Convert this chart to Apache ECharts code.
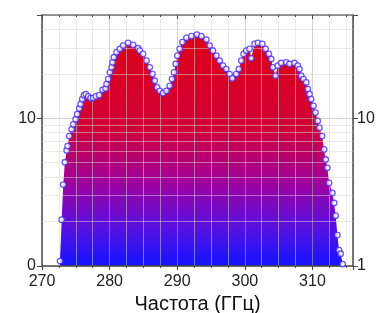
<!DOCTYPE html>
<html>
<head>
<meta charset="utf-8">
<script src="https://cdn.jsdelivr.net/npm/echarts@6/dist/echarts.min.js"></script>
<style>
  html, body { margin: 0; padding: 0; background: #fff; }
  #main { width: 388px; height: 313px; }
</style>
</head>
<body>
<div id="main"></div>
<script>
// частота, ГГц
const freq = [
  272.66, 272.91, 273.14, 273.39, 273.65, 273.79, 274.03, 274.38, 274.62, 274.97,
  275.21, 275.51, 275.71, 275.95, 276.20, 276.49, 276.83, 277.19, 277.57, 277.97,
  278.46, 278.96, 279.40, 279.55, 279.79, 280.04, 280.29, 280.44, 280.63, 281.03,
  281.51, 282.00, 282.74, 283.48, 284.21, 284.46, 284.95, 285.45, 285.94, 286.34,
  286.68, 287.02, 287.42, 287.90, 288.41, 288.89, 289.23, 289.53, 289.78, 290.03,
  290.37, 290.77, 291.36, 292.10, 292.92, 293.57, 294.31, 294.80, 295.28, 295.79,
  296.27, 296.76, 297.26, 297.75, 298.15, 298.74, 299.12, 299.48, 299.82, 300.21,
  300.70, 300.95, 301.44, 301.93, 302.58, 303.06, 303.55, 303.90, 304.14, 304.54,
  304.88, 305.38, 306.12, 306.60, 307.34, 307.83, 308.08, 308.33, 308.67, 309.07,
  309.31, 309.56, 309.81, 310.15, 310.44, 310.78, 311.03, 311.43, 311.73, 311.96,
  312.21, 312.46, 312.95, 313.20, 313.44, 313.69, 313.94, 314.18, 314.47
]
// сигнал
const signal = [
  1.08, 2.06, 3.56, 5.04, 6.06, 6.48, 7.58, 8.42, 9.10, 9.85,
  10.65, 11.64, 12.45, 13.47, 14.33, 14.56, 14.05, 13.68, 13.74, 14.05,
  14.33, 15.58, 15.93, 17.03, 18.42, 20.46, 22.13, 23.93, 25.88, 27.99,
  29.47, 31.04, 32.37, 31.38, 29.79, 28.69, 27.25, 24.53, 22.13, 19.92,
  17.94, 16.18, 15.34, 14.79, 15.34, 16.59, 18.42, 20.46, 23.30, 26.53,
  29.47, 32.73, 35.01, 35.95, 36.87, 35.95, 34.09, 31.04, 28.69, 26.53,
  24.53, 22.68, 21.54, 19.92, 18.62, 19.92, 21.54, 24.53, 27.25, 28.69,
  29.47, 25.48, 31.88, 32.37, 31.88, 29.47, 27.25, 25.19, 22.13, 19.40,
  22.68, 23.66, 23.93, 23.30, 23.66, 22.68, 21.54, 19.40, 18.42, 17.49,
  15.75, 14.56, 13.47, 12.13, 10.93, 9.59, 8.64, 7.58, 6.15, 5.26,
  4.62, 3.65, 3.12, 2.67, 2.19, 1.62, 1.28, 1.21, 1.03
]
const xTicks = [270, 280, 290, 300, 310]
const leftLabels = { 1: '0', 10: '10' }
const rightLabels = { 1: '1', 10: '10' }
const minorLevels = [2, 3, 4, 5, 6, 7, 8, 9, 20, 30, 40]

const points = freq.map((f, i) => [f, signal[i]])

var myChart = echarts.init(document.getElementById('main'))

const font = 'Liberation Sans, Arial, sans-serif'
const axisColor = '#4a4a4a'

var option = {
  animation: false,
  grid: { left: 42, right: 35, top: 15, bottom: 47, outerBoundsMode: 'none' },
  xAxis: [
    {
      type: 'value',
      min: 270,
      max: 316,
      interval: 10,
      z: 3,
      name: 'Частота (ГГц)',
      nameLocation: 'middle',
      nameGap: 27,
      nameTextStyle: { fontFamily: font, fontSize: 20, color: '#111' },
      axisLine: { show: true, lineStyle: { color: axisColor, width: 1.5 } },
      axisTick: { show: true, length: 4, lineStyle: { color: axisColor } },
      minorTick: { show: true, splitNumber: 4, length: 2, lineStyle: { color: axisColor } },
      axisLabel: {
        fontFamily: font,
        fontSize: 16,
        color: '#222',
        margin: 8,
        formatter: v => (xTicks.indexOf(v) >= 0 ? String(v) : '')
      },
      splitLine: { show: true, lineStyle: { color: 'rgba(175,175,175,0.55)', width: 1 } },
      minorSplitLine: { show: true, lineStyle: { color: 'rgba(215,215,215,0.5)', width: 1 } }
    },
    {
      type: 'value',
      position: 'top',
      min: 270,
      max: 316,
      interval: 10,
      z: 3,
      axisLine: { show: true, lineStyle: { color: '#777', width: 1.5 } },
      axisTick: { show: true, inside: true, length: 4, lineStyle: { color: axisColor } },
      minorTick: { show: true, splitNumber: 4, length: 2, lineStyle: { color: axisColor } },
      axisLabel: { show: false },
      splitLine: { show: false }
    }
  ],
  yAxis: [
    {
      type: 'log',
      logBase: 10,
      min: 1,
      max: 50,
      z: 3,
      axisLine: { show: true, lineStyle: { color: axisColor, width: 1.5 } },
      axisTick: { show: true, length: 5, lineStyle: { color: axisColor } },
      axisLabel: {
        fontFamily: font,
        fontSize: 16,
        color: '#222',
        margin: 6,
        formatter: v => leftLabels[Math.round(v)] || ''
      },
      splitLine: { show: true, lineStyle: { color: 'rgba(175,175,175,0.55)', width: 1 } }
    },
    {
      type: 'log',
      logBase: 10,
      min: 1,
      max: 50,
      position: 'right',
      z: 3,
      axisLine: { show: true, lineStyle: { color: axisColor, width: 1.5 } },
      axisTick: { show: true, length: 5, lineStyle: { color: axisColor } },
      axisLabel: {
        fontFamily: font,
        fontSize: 16,
        color: '#222',
        margin: 4,
        formatter: v => rightLabels[Math.round(v)] || ''
      },
      splitLine: { show: false }
    }
  ],
  series: [
    {
      type: 'line',
      data: points,
      showSymbol: false,
      lineStyle: { width: 0 },
      z: 1,
      areaStyle: {
        opacity: 1,
        color: new echarts.graphic.LinearGradient(0, 0, 0, 1, [
          { offset: 0, color: '#dc0018' },
          { offset: 0.4, color: '#d20036' },
          { offset: 0.63, color: '#a2009a' },
          { offset: 0.83, color: '#5a10e0' },
          { offset: 1, color: '#1414ff' }
        ])
      },
      markLine: {
        silent: true,
        symbol: 'none',
        label: { show: false },
        lineStyle: { color: 'rgba(215,215,215,0.5)', type: 'solid', width: 1 },
        data: minorLevels.map(v => ({ yAxis: v }))
      }
    },
    {
      type: 'scatter',
      data: points,
      symbol: 'circle',
      symbolSize: 5.5,
      z: 5,
      itemStyle: { color: '#fff', borderColor: '#4a30f0', borderWidth: 1.3 }
    }
  ]
}

myChart.setOption(option)
</script>
</body>
</html>
